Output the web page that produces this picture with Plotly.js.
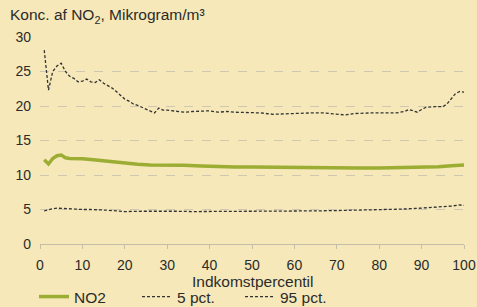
<!DOCTYPE html>
<html>
<head>
<meta charset="utf-8">
<script src="https://cdn.plot.ly/plotly-3.0.1.min.js"></script>
<style>html,body{margin:0;padding:0;background:#f6e8b8;}#chart{width:477px;height:307px;}</style>
</head>
<body>
<div id="chart"></div>
<script>
// Percentile positions and values
const no2X = [1,2,3,4,5,6,7,8,10,12,14,16,18,20,23,26,30,34,38,42,46,50,55,60,65,70,75,80,85,90,94,97,100];
const no2Y = [12.2,11.6,12.4,12.8,12.9,12.5,12.4,12.4,12.35,12.25,12.1,12.0,11.8,11.7,11.55,11.45,11.45,11.4,11.3,11.2,11.15,11.15,11.1,11.1,11.05,11.0,11.0,11.0,11.05,11.1,11.2,11.35,11.45];

const p5X = [1,2,3,4,6,8,10,12,14,16,18,20,24,28,32,36,40,45,50,55,60,65,70,75,80,85,90,94,97,99,100];
const p5Y = [4.8,5.0,5.1,5.2,5.1,5.0,5.0,5.0,5.0,4.9,4.8,4.7,4.75,4.8,4.75,4.7,4.7,4.7,4.7,4.7,4.75,4.8,4.85,4.9,4.95,5.05,5.2,5.35,5.5,5.65,5.6];

const p95X = [1,2,3,4,5,6,7,8,9,10,11,12,13,14,15,16,17,18,19,20,21,22,23,24,25,26,27,28,29,30,32,34,36,38,40,42,44,46,48,50,52,55,58,61,64,67,70,72,74,76,78,80,82,84,86,87,88,89,90,91,93,95,96,97,98,99,100];
const p95Y = [28.1,22.3,25.0,25.8,26.2,25.0,24.3,24.0,23.5,23.6,23.9,23.5,23.4,23.8,23.3,23.0,22.6,22.1,21.5,21.0,20.7,20.3,20.1,19.8,19.6,19.3,19.0,19.7,19.4,19.4,19.2,19.1,19.2,19.3,19.3,19.1,19.2,19.1,19.1,19.0,19.0,18.8,18.9,18.9,19.0,19.0,18.8,18.7,18.9,19.0,19.0,19.0,19.0,19.0,19.2,19.5,19.3,19.1,19.5,19.8,19.9,19.9,20.3,21.0,21.8,22.1,22.0];

const names = ['NO2', '5 pct.', '95 pct.'];
const xTicks = [0,10,20,30,40,50,60,70,80,90,100];
const yTicks = [0,5,10,15,20,25,30];
const xTitle = 'Indkomstpercentil';

const fam = 'Liberation Sans, Arial, sans-serif';
const font = {family: fam, size: 14, color: '#2b2b2b'};
const bigFont = {family: fam, size: 15.5, color: '#2b2b2b'};

const traces = [
  {x: no2X, y: no2Y, name: names[0], type: 'scatter', mode: 'lines',
   line: {color: '#9cad33', width: 3.5}},
  {x: p5X, y: p5Y, name: names[1], type: 'scatter', mode: 'lines',
   line: {color: '#333333', width: 1.3, dash: '3px,2px'}},
  {x: p95X, y: p95Y, name: names[2], type: 'scatter', mode: 'lines',
   line: {color: '#333333', width: 1.3, dash: '3px,2px'}}
];

const layout = {
  width: 477, height: 307,
  paper_bgcolor: '#f6e8b8', plot_bgcolor: '#f6e8b8',
  font: font,
  margin: {l: 40, r: 13, t: 37, b: 63, autoexpand: false},
  title: {text: 'Konc. af NO<sub>2</sub>, Mikrogram/m³', font: bigFont,
          xref: 'container', yref: 'container', x: 10/477, xanchor: 'left',
          y: 1 - 15/307, yanchor: 'middle'},
  xaxis: {range: [0, 100], tickvals: xTicks, ticktext: xTicks.map(String), automargin: false,
          showgrid: false, zeroline: false, showline: true, linecolor: '#c4bea8', linewidth: 1,
          ticks: 'outside', ticklen: 4, tickcolor: '#c4bea8', ticklabelstandoff: 4,
          tickfont: font},
  yaxis: {range: [0, 30], tickvals: yTicks, ticktext: yTicks.map(String), automargin: false,
          showgrid: true, gridcolor: '#cfc8b0', griddash: 'dash', gridwidth: 1,
          zeroline: false, showline: false, ticks: '', ticklabelstandoff: 8,
          tickfont: font},
  annotations: [
    {text: xTitle, xref: 'paper', yref: 'paper', x: 0.5, xanchor: 'center',
     y: -37/207, yanchor: 'middle', showarrow: false, font: bigFont}
  ],
  showlegend: true,
  legend: {orientation: 'h', xref: 'container', yref: 'container',
           x: 34/477, xanchor: 'left', y: 1 - 297/307, yanchor: 'middle',
           font: bigFont, bgcolor: 'rgba(0,0,0,0)', entrywidth: 58, entrywidthmode: 'pixels',
           traceorder: 'normal'}
};

Plotly.newPlot('chart', traces, layout, {displayModeBar: false, staticPlot: true});
</script>
</body>
</html>
